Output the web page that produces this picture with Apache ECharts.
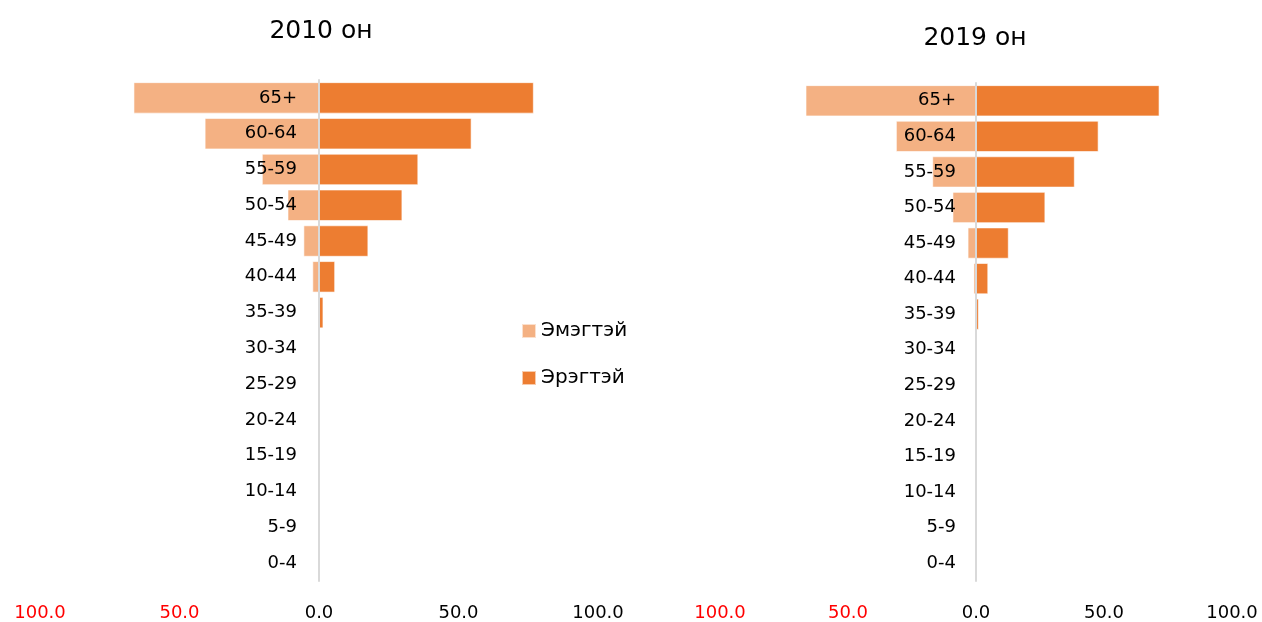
<!DOCTYPE html>
<html>
<head>
<meta charset="utf-8">
<script src="https://cdn.jsdelivr.net/npm/echarts@6/dist/echarts.min.js"></script>
<style>html,body{margin:0;padding:0;background:#fff}#c{width:1262px;height:622px}</style>
</head>
<body>
<div id="c"></div>
<script>
const categories = ['0-4','5-9','10-14','15-19','20-24','25-29','30-34','35-39','40-44','45-49','50-54','55-59','60-64','65+'];
const female2010 = [0, 0.1, 0, 0, 0, 0, 0.5, 0.4, 2.4, 5.6, 11.3, 20.5, 41.0, 66.5];
const male2010   = [0, 0, 0, 0, 0, 0, 0.1, 1.6, 5.8, 17.7, 29.9, 35.6, 54.7, 77.0];
const female2019 = [0, 0, 0, 0, 0, 0, 0.1, 0.5, 1.0, 3.3, 9.2, 17.1, 31.3, 66.6];
const male2019   = [0, 0, 0, 0, 0, 0, 0.2, 1.1, 4.8, 12.8, 27.1, 38.6, 47.9, 71.7];
const titles = ['2010 он', '2019 он'];
const seriesNames = ['Эмэгтэй', 'Эрэгтэй'];

const FONT = 'DejaVu Sans';
const cFemale = '#F4B183', cMale = '#ED7D31';

function xAxisFor(idx) {
  return {
    gridIndex: idx, type: 'value', min: -100, max: 100, interval: 50,
    axisLine: {show: false}, axisTick: {show: false}, splitLine: {show: false},
    axisLabel: {
      margin: 23, fontFamily: FONT, fontSize: 18,
      formatter: v => Math.abs(v).toFixed(1),
      color: v => (v < 0 ? '#FF0000' : '#000000')
    }
  };
}
function yAxisFor(idx, offset, margin) {
  return {
    gridIndex: idx, type: 'category', data: categories, z: 5,
    position: 'left', offset: offset,
    axisLine: {show: true, onZero: false, lineStyle: {color: '#D9D9D9', width: 2}},
    axisTick: {show: false},
    axisLabel: {margin: margin, fontFamily: FONT, fontSize: 18, color: '#000'}
  };
}
function barSeries(name, data, color, idx) {
  return {
    name: name, type: 'bar', stack: 'g' + idx, xAxisIndex: idx, yAxisIndex: idx,
    data: data, barCategoryGap: '12%',
    itemStyle: {color: color, borderColor: 'rgba(255,255,255,0.6)', borderWidth: 1},
    emphasis: {disabled: true}
  };
}

const chart = echarts.init(document.getElementById('c'));
chart.setOption({
  animation: false,
  title: [
    {text: titles[0], left: 316, top: 14, textAlign: 'center',
     textStyle: {fontFamily: FONT, fontSize: 25, fontWeight: 'normal', color: '#000'}},
    {text: titles[1], left: 970, top: 21, textAlign: 'center',
     textStyle: {fontFamily: FONT, fontSize: 25, fontWeight: 'normal', color: '#000'}}
  ],
  legend: {
    orient: 'vertical', left: 516, top: 316, itemWidth: 14, itemHeight: 14, itemGap: 27,
    data: seriesNames, icon: 'rect',
    textStyle: {fontFamily: FONT, fontSize: 20, color: '#000'}
  },
  grid: [
    {left: 40, width: 558, top: 80, bottom: 41, containLabel: false, outerBoundsMode: 'none'},
    {left: 720, width: 512, top: 83, bottom: 41, containLabel: false, outerBoundsMode: 'none'}
  ],
  xAxis: [xAxisFor(0), xAxisFor(1)],
  yAxis: [yAxisFor(0, -279, 22), yAxisFor(1, -256, 20)],
  series: [
    barSeries(seriesNames[0], female2010.map(v => -v), cFemale, 0),
    barSeries(seriesNames[1], male2010, cMale, 0),
    barSeries(seriesNames[0], female2019.map(v => -v), cFemale, 1),
    barSeries(seriesNames[1], male2019, cMale, 1)
  ]
});
</script>
</body>
</html>
